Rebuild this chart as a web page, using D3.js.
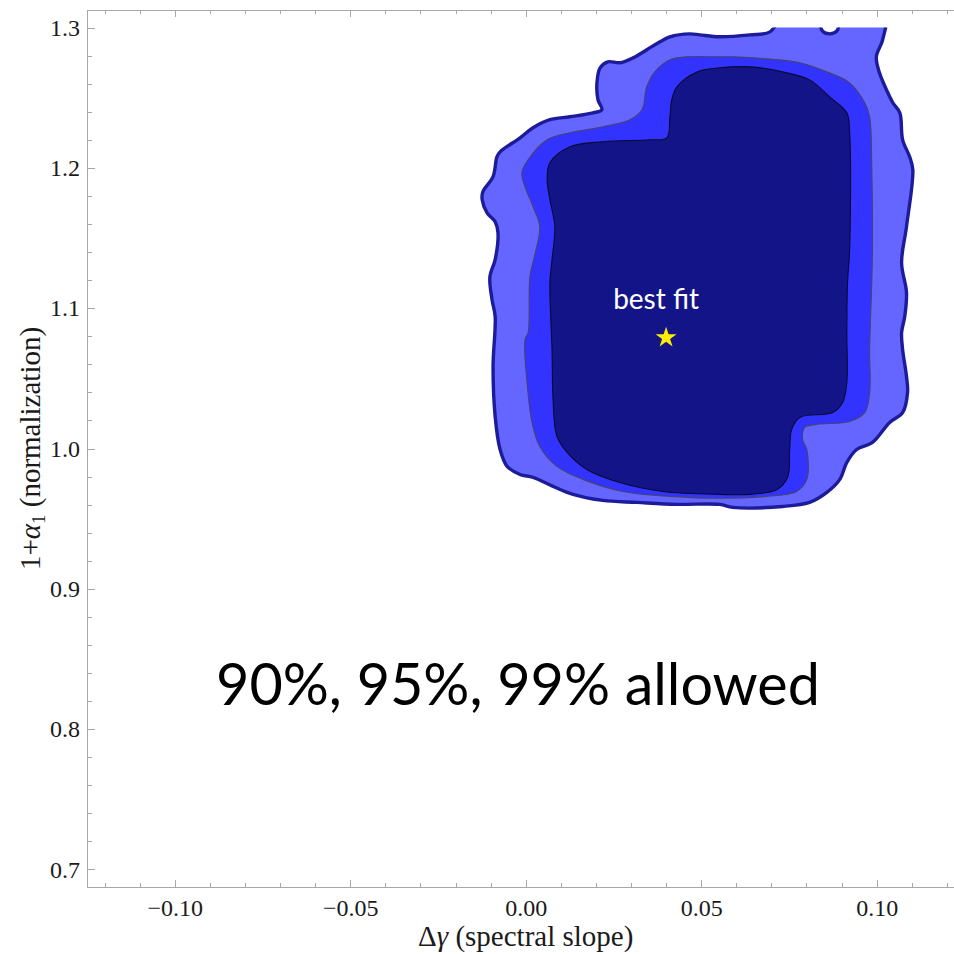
<!DOCTYPE html>
<html>
<head>
<meta charset="utf-8">
<script src="https://cdn.jsdelivr.net/npm/d3@7"></script>
<style>
  html, body { margin: 0; padding: 0; background: #fff; }
  svg { display: block; }
</style>
</head>
<body>
<script>
// Axis ticks
const xTicks = [-0.10, -0.05, 0.00, 0.05, 0.10];
const xTickLabels = ["\u22120.10", "\u22120.05", "0.00", "0.05", "0.10"];
const xMinorTicks = d3.range(-12, 13).map(i => i / 100);
const yTicks = [0.7, 0.8, 0.9, 1.0, 1.1, 1.2, 1.3];
const yTickLabels = ["0.7", "0.8", "0.9", "1.0", "1.1", "1.2", "1.3"];
const yMinorTicks = d3.range(35, 66).map(i => i / 50);

// Allowed-region boundaries, [Δγ, 1+α1]
// 99% region (runs past the top of the plotted range and is clipped there)
const contour99 = [
  [0.0696,1.2969],[0.0639,1.2948],[0.0553,1.2934],[0.0496,1.2948],[0.0468,1.2955],
  [0.0411,1.2934],[0.0368,1.2877],[0.0306,1.2784],[0.0268,1.2749],[0.0234,1.2756],
  [0.0212,1.2713],[0.0203,1.2606],[0.0206,1.2485],[0.0217,1.2414],[0.0192,1.2392],
  [0.0126,1.2364],[0.0069,1.2343],[0.0021,1.2286],[-0.0016,1.2214],[-0.0073,1.2114],
  [-0.0082,1.2079],[-0.0093,1.1937],[-0.0122,1.1830],[-0.0124,1.1773],[-0.0110,1.1680],
  [-0.0087,1.1616],[-0.0079,1.1538],[-0.0087,1.1346],[-0.0102,1.1225],[-0.0096,1.1061],
  [-0.0087,1.0940],[-0.0093,1.0584],[-0.0087,1.0228],[-0.0073,0.9993],[-0.0053,0.9873],
  [-0.0016,0.9815],[0.0021,0.9794],[0.0078,0.9730],[0.0135,0.9673],[0.0220,0.9630],
  [0.0317,0.9616],[0.0431,0.9602],[0.0553,0.9602],[0.0590,0.9580],[0.0732,0.9587],
  [0.0809,0.9616],[0.0858,0.9687],[0.0895,0.9780],[0.0915,0.9901],[0.0943,0.9993],
  [0.0988,1.0043],[0.1037,1.0186],[0.1074,1.0256],[0.1088,1.0399],[0.1085,1.0513],
  [0.1074,1.0705],[0.1071,1.0826],[0.1080,1.0940],[0.1085,1.1111],[0.1071,1.1324],
  [0.1085,1.1581],[0.1103,1.1987],[0.1094,1.2079],[0.1074,1.2200],[0.1066,1.2392],
  [0.1046,1.2464],[0.1028,1.2556],[0.1008,1.2677],[0.0999,1.2791],[0.1017,1.2912],
  [0.1023,1.3100],[0.0892,1.3100],[0.0889,1.2984],[0.0866,1.2955],[0.0843,1.2984],
  [0.0841,1.3100],[0.0738,1.3100]
];
// 95% region
const contour95 = [
  [0.0553,1.2791],[0.0459,1.2791],[0.0411,1.2770],[0.0368,1.2684],[0.0345,1.2578],
  [0.0331,1.2414],[0.0297,1.2343],[0.0220,1.2293],[0.0126,1.2250],[0.0061,1.2200],
  [0.0007,1.2058],[-0.0011,1.1965],[-0.0002,1.1865],[0.0021,1.1723],[0.0040,1.1581],
  [0.0026,1.1381],[0.0012,1.1225],[0.0007,1.0826],[-0.0002,1.0776],[0.0004,1.0470],
  [0.0018,1.0186],[0.0040,1.0015],[0.0089,0.9873],[0.0163,0.9780],[0.0277,0.9694],
  [0.0411,0.9659],[0.0553,0.9645],[0.0687,0.9659],[0.0772,0.9694],[0.0801,0.9780],
  [0.0801,0.9993],[0.0789,1.0064],[0.0795,1.0150],[0.0829,1.0172],[0.0923,1.0193],
  [0.0966,1.0256],[0.0980,1.0399],[0.0980,1.0705],[0.0986,1.1182],[0.0988,1.1417],
  [0.0986,1.2008],[0.0980,1.2364],[0.0966,1.2464],[0.0923,1.2606],[0.0858,1.2684],
  [0.0781,1.2749],[0.0687,1.2777],[0.0590,1.2791]
];
// 90% region
const contour90 = [
  [0.0639,1.2720],[0.0553,1.2713],[0.0488,1.2684],[0.0431,1.2578],[0.0416,1.2485],
  [0.0411,1.2364],[0.0402,1.2214],[0.0354,1.2200],[0.0220,1.2186],[0.0126,1.2150],
  [0.0069,1.2036],[0.0061,1.1915],[0.0069,1.1773],[0.0083,1.1581],[0.0075,1.1346],
  [0.0069,1.1182],[0.0075,1.0705],[0.0078,1.0349],[0.0089,1.0086],[0.0118,0.9972],
  [0.0174,0.9851],[0.0268,0.9758],[0.0391,0.9694],[0.0553,0.9673],[0.0639,0.9673],
  [0.0716,0.9708],[0.0747,0.9801],[0.0752,0.9993],[0.0758,1.0136],[0.0781,1.0221],
  [0.0875,1.0256],[0.0903,1.0328],[0.0915,1.0470],[0.0915,1.0826],[0.0917,1.1182],
  [0.0923,1.1417],[0.0923,1.2250],[0.0915,1.2392],[0.0866,1.2506],[0.0809,1.2627],
  [0.0732,1.2684]
];
const bestFit = [0.040, 1.079];

const W = 954, H = 954;
const x = d3.scaleLinear([-0.125, 0.125], [87, 964.4]);
const y = d3.scaleLinear([0.6875, 1.3125], [887, 10]);

const svg = d3.select("body").append("svg")
  .attr("width", W).attr("height", H)
  .attr("viewBox", `0 0 ${W} ${H}`);

// Clip to the plotted data range
svg.append("clipPath").attr("id", "plotClip")
  .append("rect")
  .attr("x", x(-0.12)).attr("y", y(1.30))
  .attr("width", x(0.12) - x(-0.12)).attr("height", y(0.70) - y(1.30));

const line = d3.line()
  .x(d => x(d[0])).y(d => y(d[1]))
  .curve(d3.curveCatmullRomClosed.alpha(0.5));

const regions = svg.append("g").attr("clip-path", "url(#plotClip)");
regions.append("path").attr("d", line(contour99))
  .attr("fill", "#6565ff").attr("stroke", "#1c1c9a").attr("stroke-width", 3.4)
  .attr("stroke-linejoin", "round");
regions.append("path").attr("d", line(contour95))
  .attr("fill", "#3333ff").attr("stroke", "#44446e").attr("stroke-width", 1.1);
regions.append("path").attr("d", line(contour90))
  .attr("fill", "#141489").attr("stroke", "#0a0a30").attr("stroke-width", 1.1);

// Frame
const frameColor = "#a8a8a8";
const frame = svg.append("g").attr("stroke", frameColor).attr("stroke-width", 1)
  .attr("shape-rendering", "crispEdges");
frame.append("line").attr("x1", 87).attr("x2", 87).attr("y1", 10).attr("y2", 887);
frame.append("line").attr("x1", 87).attr("x2", 964.4).attr("y1", 10).attr("y2", 10);
frame.append("line").attr("x1", 87).attr("x2", 964.4).attr("y1", 887).attr("y2", 887);
frame.append("line").attr("x1", 964.4).attr("x2", 964.4).attr("y1", 10).attr("y2", 887);

function styleAxis(g) {
  g.select(".domain").remove();
  g.selectAll(".tick line").attr("stroke", frameColor).attr("shape-rendering", "crispEdges");
  g.selectAll(".tick text")
    .attr("fill", "#1a1a1a")
    .attr("font-family", "'Liberation Serif', 'Times New Roman', serif")
    .attr("font-size", 24);
}

// Bottom axis: majors with labels, minors without
svg.append("g").attr("transform", "translate(0,887)")
  .call(d3.axisBottom(x).tickValues(xMinorTicks).tickSize(-4).tickFormat(""))
  .call(styleAxis);
svg.append("g").attr("transform", "translate(0,887)")
  .call(d3.axisBottom(x).tickValues(xTicks).tickSize(-7).tickPadding(12)
    .tickFormat((d, i) => xTickLabels[i]))
  .call(styleAxis);
// Top axis ticks
svg.append("g").attr("transform", "translate(0,10)")
  .call(d3.axisTop(x).tickValues(xMinorTicks).tickSize(-4).tickFormat(""))
  .call(styleAxis);
svg.append("g").attr("transform", "translate(0,10)")
  .call(d3.axisTop(x).tickValues(xTicks).tickSize(-7).tickFormat(""))
  .call(styleAxis);
// Left axis
svg.append("g").attr("transform", "translate(87,0)")
  .call(d3.axisLeft(y).tickValues(yMinorTicks).tickSize(-4.5).tickFormat(""))
  .call(styleAxis);
svg.append("g").attr("transform", "translate(87,0)")
  .call(d3.axisLeft(y).tickValues(yTicks).tickSize(-8).tickPadding(7)
    .tickFormat((d, i) => yTickLabels[i]))
  .call(styleAxis);

// Axis titles
const serif = "'Liberation Serif', 'Times New Roman', serif";
const xt = svg.append("text")
  .attr("x", (x(-0.125) + x(0.125)) / 2).attr("y", 946)
  .attr("text-anchor", "middle")
  .attr("font-family", serif).attr("font-size", 29).attr("fill", "#1a1a1a");
xt.append("tspan").text("\u0394");
xt.append("tspan").attr("font-style", "italic").text("\u03b3");
xt.append("tspan").text(" (spectral slope)");

const yt = svg.append("text")
  .attr("transform", `translate(40,${(y(0.6875) + y(1.3125)) / 2}) rotate(-90)`)
  .attr("text-anchor", "middle")
  .attr("font-family", serif).attr("font-size", 29).attr("fill", "#1a1a1a");
yt.append("tspan").text("1+");
yt.append("tspan").attr("font-style", "italic").text("\u03b1");
yt.append("tspan").attr("font-size", 19).attr("dy", 5).text("1");
yt.append("tspan").attr("dy", -5).text(" (normalization)");

// Best-fit point and label
svg.append("path")
  .attr("d", d3.symbol(d3.symbolStar, 136)())
  .attr("transform", `translate(${x(bestFit[0])},${y(bestFit[1])})`)
  .attr("fill", "#ffee00");
svg.append("text")
  .attr("x", x(bestFit[0]) - 10).attr("y", y(bestFit[1]) - 29)
  .attr("text-anchor", "middle")
  .attr("font-family", "Lato, 'Open Sans', sans-serif").attr("font-size", 28)
  .attr("fill", "#ffffff")
  .text("best fit");

// Annotation
svg.append("text")
  .attr("x", 518).attr("y", 705)
  .attr("text-anchor", "middle")
  .attr("font-family", "Lato, 'Open Sans', sans-serif").attr("font-size", 57.5)
  .attr("fill", "#000")
  .text("90%, 95%, 99% allowed");
</script>
</body>
</html>
